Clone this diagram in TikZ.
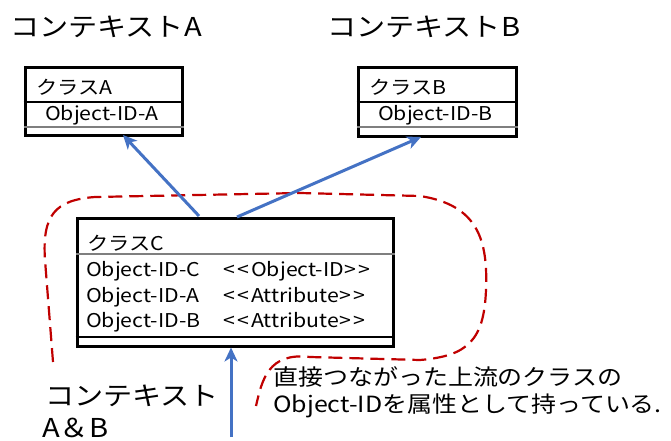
\documentclass[tikz,border=0pt]{standalone}
\usepackage{fontspec}
\setmainfont[FakeStretch=1.12]{Noto Sans CJK JP}
\usetikzlibrary{arrows.meta}
\definecolor{linkblue}{HTML}{4472C4}
\definecolor{scopered}{HTML}{C00000}
\definecolor{rulegray}{HTML}{7F7F7F}
\tikzset{
  classbox/.style={draw=black, line width=3pt, fill=white, inner sep=0pt},
  rulethin/.style={draw=rulegray, line width=1.3pt},
  ruledark/.style={draw=black, line width=1.3pt},
  cls/.style={anchor=base west, inner sep=0pt, font=\fontsize{19}{22}\selectfont},
  ctx/.style={anchor=base west, inner sep=0pt, font=\fontsize{26}{30}\selectfont},
  note/.style={anchor=base west, inner sep=0pt, font=\fontsize{22.3}{27}\selectfont},
  link/.style={draw=linkblue, line width=3pt, -{Stealth[length=14pt, width=13pt, inset=4pt]}},
  scope/.style={draw=scopered, line width=2.2pt, dash pattern=on 14pt off 7pt, line cap=butt}
}
\newcommand{\gt}{>\kern2.2pt}
\newcommand{\lt}{<\kern2.2pt}
\begin{document}
\begin{tikzpicture}[x=1pt, y=-1pt]
\useasboundingbox (0,0) rectangle (671,441);

% context titles
\node[ctx] (ctxA) at (10,37) {コンテキストA};
\node[ctx] (ctxB) at (327,37) {コンテキストB};

% class A
\node[classbox, minimum width=157pt, minimum height=68pt] (clsA) at (103.5,101.5) {};
\draw[ruledark] (clsA.west |- 0,102) -- (clsA.east |- 0,102);
\draw[rulethin] (clsA.west |- 0,127) -- (clsA.east |- 0,127);
\node[cls] (clsAname) at (36,95) {クラスA};
\node[cls] (clsAid) at (45,121) {Object-ID-A};

% class B
\node[classbox, minimum width=158pt, minimum height=68pt] (clsB) at (437,102) {};
\draw[ruledark] (clsB.west |- 0,102) -- (clsB.east |- 0,102);
\draw[rulethin] (clsB.west |- 0,127) -- (clsB.east |- 0,127);
\node[cls] (clsBname) at (369,95) {クラスB};
\node[cls] (clsBid) at (378,121) {Object-ID-B};

% scope boundary of the shared context
\draw[scope] (53,362) -- (45,260)
  .. controls (42,215) and (55,200) .. (95,197)
  -- (300,193) -- (420,196)
  .. controls (478,205) and (488,240) .. (486,290)
  .. controls (484,340) and (468,356) .. (420,360)
  -- (310,357)
  .. controls (268,352) and (262,380) .. (256,406);

% class C
\node[classbox, minimum width=316pt, minimum height=128pt] (clsC) at (235,282) {};
\draw[rulethin] (clsC.west |- 0,254) -- (clsC.east |- 0,254);
\draw[ruledark] (clsC.west |- 0,337) -- (clsC.east |- 0,337);
\node[cls] (clsCname) at (87,250) {クラスC};
\node[cls] (rowC) at (86,276) {Object-ID-C};
\node[cls] (rowA) at (86,302) {Object-ID-A};
\node[cls] (rowB) at (86,327) {Object-ID-B};
\node[cls] (stC) at (223,276) {\lt\lt Object-ID\gt\gt};
\node[cls] (stA) at (223,302) {\lt\lt Attribute\gt\gt};
\node[cls] (stB) at (223,327) {\lt\lt Attribute\gt\gt};

% references to upstream classes
\coordinate (srcA) at (199,216);
\coordinate (srcB) at (237,217);
\coordinate (tipA) at (123,135);
\coordinate (tipB) at (421,137);
\draw[link] (srcA) -- (tipA);
\draw[link] (srcB) -- (tipB);
\coordinate (srcUp) at (231,437);
\draw[link] (srcUp) -- (clsC.south -| srcUp);

% shared context label
\node[ctx] (ctxAB1) at (45,405) {コンテキスト};
\node[ctx] (ctxAB2) at (42,437) {A＆B};

% annotation
\node[note] (note1) at (273,385) {直接つながった上流のクラスの};
\node[note] (note2) at (273,412) {Object-IDを属性として持っている.};
\end{tikzpicture}
\end{document}
